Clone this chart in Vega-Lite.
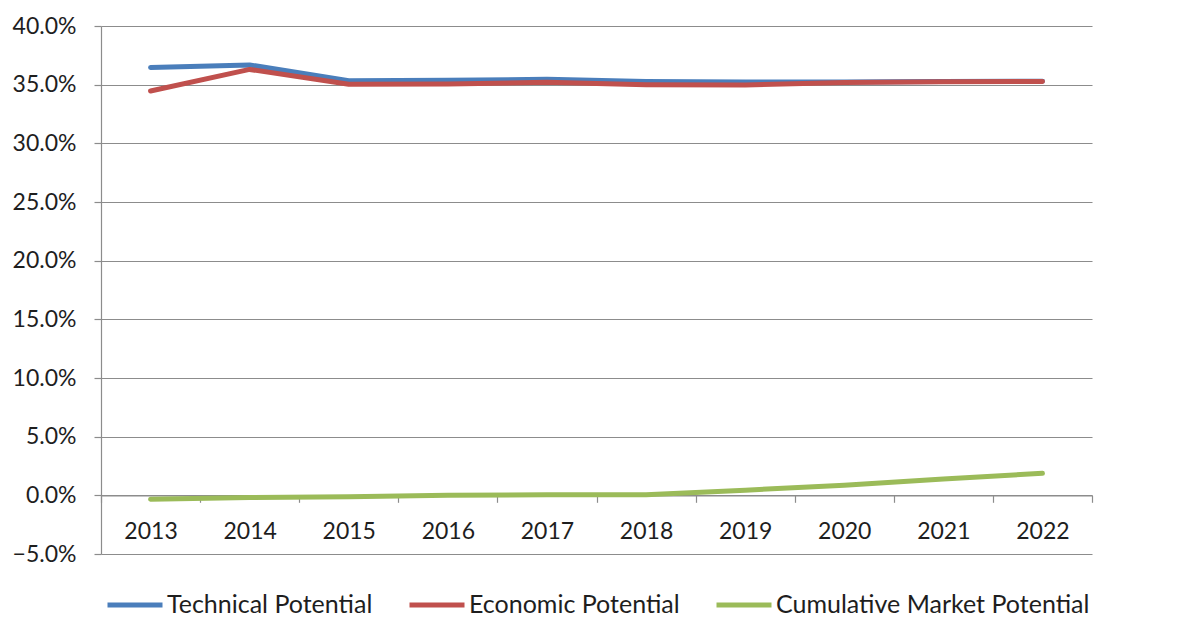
{
  "$schema": "https://vega.github.io/schema/vega-lite/v6.json",
  "width": 991,
  "height": 528,
  "autosize": {"type": "none"},
  "padding": {"left": 101, "top": 26, "right": 91, "bottom": 89},
  "background": "white",
  "config": {
    "font": "Lato",
    "view": {"stroke": null},
    "axis": {"labelFont": "Lato", "labelFontSize": 23, "labelColor": "#1e1e1e", "domainColor": "#8c8c8c", "tickColor": "#8c8c8c", "gridColor": "#8c8c8c", "domainWidth": 1.2, "tickWidth": 1.2, "gridWidth": 1.2},
    "legend": {"labelFont": "Lato", "labelFontSize": 25, "labelColor": "#1e1e1e", "labelLimit": 0}
  },
  "data": {
    "values": [
      {"year": "2013", "series": "Technical Potential", "value": 0.3646},
      {"year": "2014", "series": "Technical Potential", "value": 0.3668},
      {"year": "2015", "series": "Technical Potential", "value": 0.3534},
      {"year": "2016", "series": "Technical Potential", "value": 0.3537},
      {"year": "2017", "series": "Technical Potential", "value": 0.3546},
      {"year": "2018", "series": "Technical Potential", "value": 0.3527},
      {"year": "2019", "series": "Technical Potential", "value": 0.3523},
      {"year": "2020", "series": "Technical Potential", "value": 0.3522},
      {"year": "2021", "series": "Technical Potential", "value": 0.3526},
      {"year": "2022", "series": "Technical Potential", "value": 0.3530},
      {"year": "2013", "series": "Economic Potential", "value": 0.3446},
      {"year": "2014", "series": "Economic Potential", "value": 0.3630},
      {"year": "2015", "series": "Economic Potential", "value": 0.3503},
      {"year": "2016", "series": "Economic Potential", "value": 0.3506},
      {"year": "2017", "series": "Economic Potential", "value": 0.3520},
      {"year": "2018", "series": "Economic Potential", "value": 0.3500},
      {"year": "2019", "series": "Economic Potential", "value": 0.3498},
      {"year": "2020", "series": "Economic Potential", "value": 0.3518},
      {"year": "2021", "series": "Economic Potential", "value": 0.3524},
      {"year": "2022", "series": "Economic Potential", "value": 0.3528},
      {"year": "2013", "series": "Cumulative Market Potential", "value": -0.0034},
      {"year": "2014", "series": "Cumulative Market Potential", "value": -0.0018},
      {"year": "2015", "series": "Cumulative Market Potential", "value": -0.0012},
      {"year": "2016", "series": "Cumulative Market Potential", "value": 0.0000},
      {"year": "2017", "series": "Cumulative Market Potential", "value": 0.0004},
      {"year": "2018", "series": "Cumulative Market Potential", "value": 0.0004},
      {"year": "2019", "series": "Cumulative Market Potential", "value": 0.0044},
      {"year": "2020", "series": "Cumulative Market Potential", "value": 0.0086},
      {"year": "2021", "series": "Cumulative Market Potential", "value": 0.0140},
      {"year": "2022", "series": "Cumulative Market Potential", "value": 0.0188}
    ]
  },
  "mark": {"type": "line", "strokeWidth": 5, "strokeCap": "round", "strokeJoin": "round"},
  "encoding": {
    "x": {
      "field": "year", "type": "ordinal",
      "scale": {"paddingInner": 0, "paddingOuter": 0},
      "axis": {"title": null, "labelAngle": 0, "tickBand": "extent", "tickSize": 7, "labelPadding": 18, "offset": -58.7, "grid": false}
    },
    "y": {
      "field": "value", "type": "quantitative",
      "scale": {"domain": [-0.05, 0.4], "nice": false, "zero": false},
      "axis": {"title": null, "format": ".1%", "values": [-0.05, 0, 0.05, 0.1, 0.15, 0.2, 0.25, 0.3, 0.35, 0.4], "tickSize": 7, "labelPadding": 18, "grid": true}
    },
    "color": {
      "field": "series", "type": "nominal",
      "sort": ["Technical Potential", "Economic Potential", "Cumulative Market Potential"],
      "scale": {"domain": ["Technical Potential", "Economic Potential", "Cumulative Market Potential"], "range": ["#4a7ebb", "#c0504d", "#9bbb59"]},
      "legend": {"title": null, "orient": "none", "legendX": 4, "legendY": 549, "direction": "horizontal", "symbolType": "stroke", "symbolSize": 3025, "symbolStrokeWidth": 5, "labelOffset": 2, "columnPadding": 26, "padding": 0}
    }
  }
}
